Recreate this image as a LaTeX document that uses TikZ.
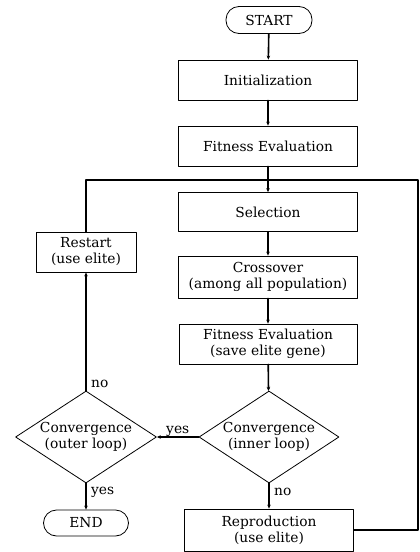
\documentclass[tikz,border=0pt]{standalone}
\usepackage{fontspec}
\setmainfont{DejaVu Serif}
\usetikzlibrary{arrows.meta}
\usetikzlibrary{positioning}
\usetikzlibrary{shapes.geometric}

\begin{document}
\begin{tikzpicture}[x=1pt, y=-1pt, line cap=round, line join=round,
	every node/.style={font=\fontsize{13.8}{16}\selectfont},
	procbox/.style={draw, line width=0.8pt, minimum width=179pt, minimum height=40pt, align=center, inner sep=1pt},
	termbox/.style={draw, line width=0.8pt, rounded corners=13pt, minimum width=86pt, minimum height=27pt, inner sep=1pt},
	decide/.style={draw, diamond, line width=0.8pt, minimum width=140pt, minimum height=92pt, align=center, inner sep=0pt, aspect=1.5},
	flow/.style={line width=1.6pt, -{Stealth[length=4pt,width=3.5pt]}},
	flowline/.style={line width=1.6pt}]
	\useasboundingbox (0,0) rectangle (420,552);

	% Main column
	\node[termbox] (start) at (269,20) {START};
	\node[procbox] (init) at (268,80) {Initialization};
	\node[procbox] (fit) at (268,146) {Fitness Evaluation};
	\node[procbox, minimum height=39pt] (sel) at (268,212) {Selection};
	\node[procbox, minimum height=42pt] (cross) at (268,277) {Crossover\\(among all population)};
	\node[procbox, minimum width=178pt] (fitelite) at (268,344) {Fitness Evaluation\\(save elite gene)};
	\node[decide] (inner) at (269,437) {Convergence\\(inner loop)};
	\node[procbox, minimum width=169pt, minimum height=42pt] (repro) at (269,530) {Reproduction\\(use elite)};

	% Outer loop
	\node[decide, minimum width=141pt] (outer) at (86,437) {Convergence\\(outer loop)};
	\node[procbox, minimum width=100pt] (restart) at (86,252) {Restart\\(use elite)};
	\node[termbox, minimum width=85pt, minimum height=26pt] (end) at (86,523) {END};

	% Return line
	\coordinate (ltop) at (86,180);
	\coordinate (rtop) at (418,180);

	\draw[flow] (start) -- (init);
	\draw[flow] (init) -- (fit);
	\draw[flow] (fit) -- (sel);
	\draw[flow] (sel) -- (cross);
	\draw[flow] (cross) -- (fitelite);
	\draw[flow] (fitelite) -- (inner);
	\draw[flow] (inner) -- (repro) node[pos=0.35, right=1pt] {no};
	\draw[flow] (inner) -- (outer) node[midway, above=-4pt] {yes};
	\draw[flow] (outer) -- (restart) node[pos=0.06, right=1pt] {no};
	\draw[flow] (outer) -- (end) node[pos=0.35, right=1pt] {yes};
	\draw[flowline] (repro.east) -- (repro.east -| rtop) -- (rtop) -- (ltop) -- (restart.north);
\end{tikzpicture}
\end{document}
